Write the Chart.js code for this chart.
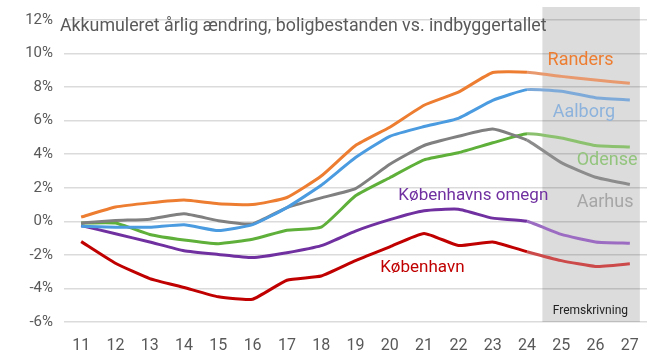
<!DOCTYPE html>
<html>
<head>
<meta charset="utf-8">
<script src="https://cdn.jsdelivr.net/npm/chart.js@4"></script>
<style>
body { margin: 0; background: #fff; }
#wrap { width: 654px; height: 353px; }
</style>
</head>
<body>
<div id="wrap"><canvas id="mycanvas" width="654" height="353"></canvas></div>
<script>
var aar = ["11", "12", "13", "14", "15", "16", "17", "18", "19", "20", "21", "22", "23", "24", "25", "26", "27"];
var randers = [0.25, 0.85, 1.1, 1.27, 1.05, 1.0, 1.42, 2.7, 4.52, 5.61, 6.92, 7.7, 8.87, 8.89, 8.64, 8.42, 8.23];
var aalborg = [-0.3, -0.35, -0.35, -0.2, -0.55, -0.2, 0.82, 2.15, 3.8, 5.07, 5.65, 6.14, 7.21, 7.85, 7.76, 7.37, 7.23];
var aarhus = [-0.1, 0.05, 0.13, 0.45, 0.04, -0.15, 0.82, 1.4, 1.95, 3.4, 4.52, 5.07, 5.5, 4.84, 3.5, 2.63, 2.2];
var odense = [-0.1, -0.1, -0.78, -1.11, -1.33, -1.07, -0.53, -0.35, 1.52, 2.6, 3.66, 4.09, 4.68, 5.22, 4.97, 4.52, 4.43];
var omegn = [-0.25, -0.74, -1.23, -1.75, -1.97, -2.16, -1.87, -1.45, -0.58, 0.1, 0.63, 0.72, 0.19, 0.0, -0.78, -1.23, -1.31];
var kbh = [-1.21, -2.5, -3.41, -3.94, -4.5, -4.64, -3.51, -3.26, -2.34, -1.52, -0.72, -1.44, -1.23, -1.81, -2.34, -2.69, -2.53];
var yTicks = [-6, -4, -2, 0, 2, 4, 6, 8, 10, 12];
var forsteFremskrivning = 13; // index for 24, fra her er det fremskrivning

var font = "Roboto";

function serie(navn, data, farve, lys) {
	return {
		label: navn,
		data: data,
		borderColor: farve,
		borderWidth: 3,
		pointRadius: 0,
		tension: 0.15,
		fill: false,
		segment: {
			borderColor: function(ctx) { return ctx.p0DataIndex >= forsteFremskrivning ? lys : farve; }
		}
	};
}

// tekster ved linjerne: [tekst, kategori-index, vaerdi, farve, storrelse]
var etiketter = [
	["Randers", 13.6, 9.6, "#ed7d31", 18],
	["Aalborg", 13.75, 6.5, "#8db3dc", 18],
	["Odense", 14.45, 3.63, "#93c47d", 18],
	["Aarhus", 14.45, 1.1, "#a6a6a6", 18],
	["Københavns omegn", 9.25, 1.52, "#7030a0", 17],
	["København", 8.72, -2.75, "#c00000", 17],
	["Fremskrivning", 13.75, -5.32, "#222222", 12]
];

var skygge = {
	id: "skygge",
	beforeDraw: function(chart) {
		var c = chart.ctx, x = chart.scales.x, y = chart.scales.y;
		var x0 = x.getPixelForValue(forsteFremskrivning + 0.45);
		var x1 = x.getPixelForValue(aar.length - 1) + 10;
		c.save();
		c.fillStyle = "#dcdcdc";
		c.fillRect(x0, chart.chartArea.top - 13, x1 - x0, y.getPixelForValue(-6) - chart.chartArea.top + 13);
		c.restore();
	},
	afterDraw: function(chart) {
		var c = chart.ctx, x = chart.scales.x, y = chart.scales.y;
		c.save();
		c.textBaseline = "middle";
		c.textAlign = "left";
		c.fillStyle = "#595959";
		c.font = "17.8px " + font;
		c.fillText("Akkumuleret årlig ændring, boligbestanden vs. indbyggertallet", 60, 27);
		etiketter.forEach(function(e) {
			c.fillStyle = e[3];
			c.font = e[4] + "px " + font;
			c.fillText(e[0], x.getPixelForValue(e[1]), y.getPixelForValue(e[2]));
		});
		c.restore();
	}
};

var ctx = document.getElementById("mycanvas");
var graf = new Chart(ctx, {
	type: "line",
	data: {
		labels: aar,
		datasets: [
			serie("Randers", randers, "#ed7d31", "#e8996e"),
			serie("Aalborg", aalborg, "#4a9be0", "#7eaad9"),
			serie("Aarhus", aarhus, "#808080", "#8c8c8c"),
			serie("Odense", odense, "#5fb03a", "#8cc26f"),
			serie("Københavns omegn", omegn, "#7030a0", "#9b6cc2"),
			serie("København", kbh, "#c00000", "#cc4a4a")
		]
	},
	options: {
		responsive: false,
		animation: false,
		layout: { padding: { top: 15, right: 7, left: 0, bottom: 0 } },
		plugins: { legend: { display: false }, tooltip: { enabled: false } },
		scales: {
			x: {
				offset: true,
				grid: { display: false },
				border: { display: false },
				ticks: { color: "#595959", font: { family: font, size: 16 }, padding: 6, maxRotation: 0 },
				afterFit: function(s) { s.height = 31; }
			},
			y: {
				min: -6,
				max: 12,
				afterBuildTicks: function(s) { s.ticks = yTicks.map(function(v) { return { value: v }; }); },
				grid: { color: "rgba(0,0,0,0.14)", lineWidth: 1.5, drawTicks: false },
				border: { display: false },
				ticks: {
					color: "#595959",
					font: { family: font, size: 15 },
					padding: 11,
					callback: function(v) { return v + "%"; }
				},
				afterFit: function(s) { s.width = 64; }
			}
		}
	},
	plugins: [skygge]
});
</script>
</body>
</html>
